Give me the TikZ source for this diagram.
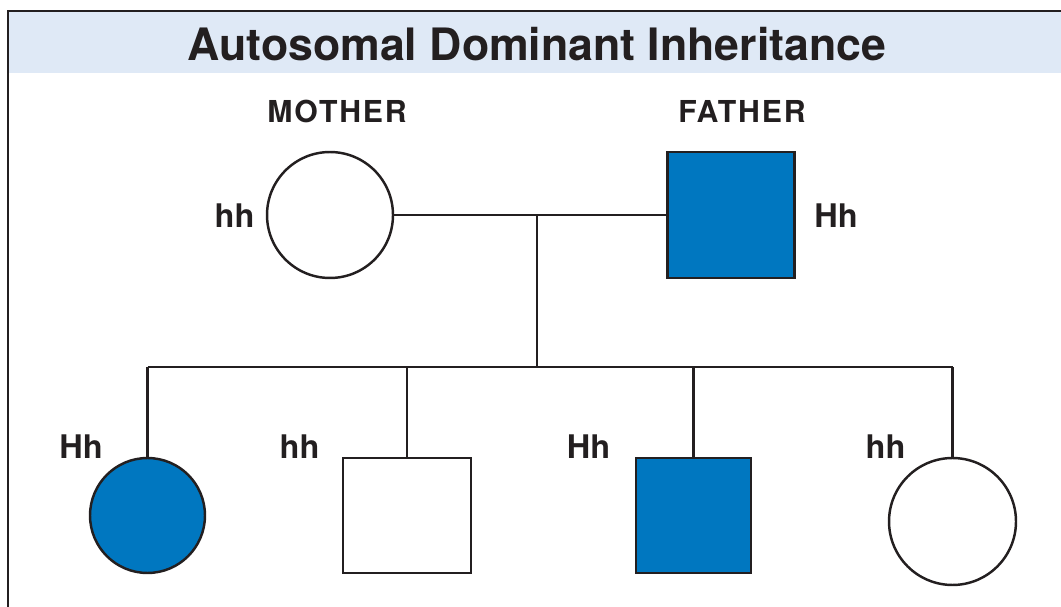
\documentclass[tikz,border=0pt]{standalone}
\usepackage{fontspec}
\setmainfont{TeX Gyre Heros}
\usetikzlibrary{positioning}
\definecolor{traitblue}{RGB}{0,119,192}
\definecolor{bandblue}{RGB}{223,233,246}
\definecolor{inkblack}{RGB}{35,31,32}
\tikzset{
  pedline/.style={draw=inkblack, line width=1.4pt},
  female/.style={circle, pedline, fill=white, inner sep=0pt, minimum size=#1},
  male/.style={rectangle, pedline, fill=white, inner sep=0pt, minimum width=#1},
  affected/.style={fill=traitblue},
  gtype/.style={text=inkblack, inner sep=0pt, font=\bfseries\fontsize{18.5}{20}\selectfont},
  parentname/.style={text=inkblack, inner sep=0pt, font=\bfseries\fontsize{17.2}{19}\selectfont\addfontfeature{LetterSpace=6}},
}
\begin{document}
\begin{tikzpicture}[x=0.02cm, y=-0.02cm]
	\clip (0,0) rectangle (1061,607);
	% frame and title band
	\fill[bandblue] (8,11) rectangle (1080,73);
	\draw[pedline] (8,620) -- (8,11) -- (1080,11);
	\node[text=inkblack, inner sep=0pt, font=\bfseries\fontsize{25.4}{28}\selectfont] (title) at (537,44) {Autosomal Dominant Inheritance};
	
	% parents
	\node[parentname] (mname) at (337,111) {MOTHER};
	\node[parentname] (fname) at (742,111) {FATHER};
	\node[female=2.52cm] (mother) at (330,215) {};
	\node[male=2.54cm, minimum height=2.52cm, affected] (father) at (731,215) {};
	\node[gtype] (mgt) at (234.5,215.5) {hh};
	\node[gtype] (fgt) at (836,215.5) {Hh};
	
	% children
	\node[female=2.3cm, affected] (c1) at (147.5,515.5) {};
	\node[male=2.56cm, minimum height=2.3cm] (c2) at (407,515.5) {};
	\node[male=2.3cm, minimum height=2.3cm, affected] (c3) at (693.5,515.5) {};
	\node[female=2.54cm] (c4) at (952.5,521.5) {};
	\node[gtype] (c1gt) at (81,447) {Hh};
	\node[gtype] (c2gt) at (299.5,447) {hh};
	\node[gtype] (c3gt) at (588.5,447) {Hh};
	\node[gtype] (c4gt) at (885.5,447) {hh};
	
	% lines of descent
	\coordinate (mate) at (537,215);
	\coordinate (sibs) at (537,367);
	\draw[pedline] (mother) -- (father);
	\draw[pedline] (mate) -- (sibs);
	\draw[pedline] (c1.north |- sibs) -- (c4.north |- sibs);
	\foreach \kid in {c1,c2,c3,c4}
		\draw[pedline] (\kid.north) -- (\kid.north |- sibs);
\end{tikzpicture}
\end{document}
